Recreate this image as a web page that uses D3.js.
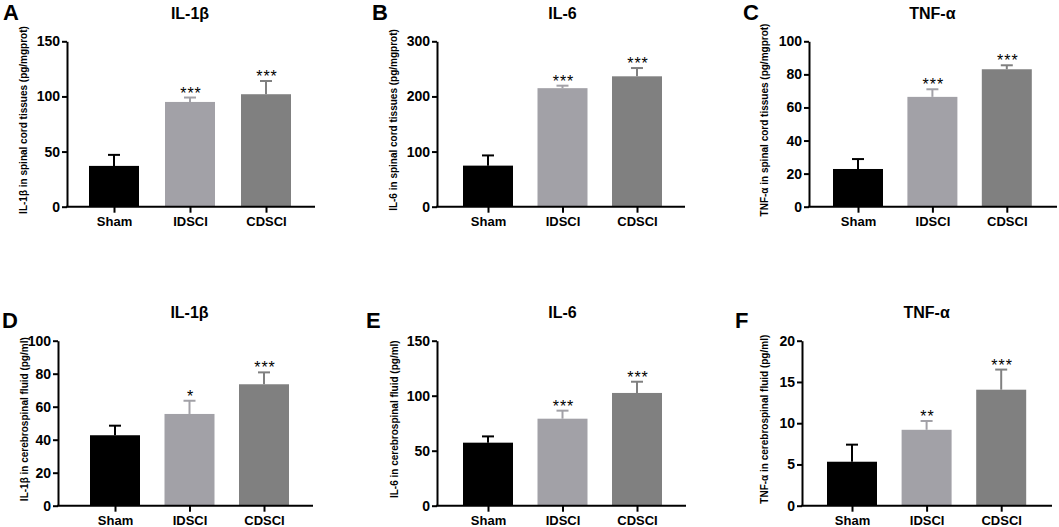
<!DOCTYPE html>
<html>
<head>
<meta charset="utf-8">
<script src="https://cdn.jsdelivr.net/npm/d3@7"></script>
<style>
  body { margin: 0; background: #fff; }
  svg { display: block; font-family: "Liberation Sans", Arial, sans-serif; }
</style>
</head>
<body>
<script>
// groups and panel texts
const groups = ["Sham", "IDSCI", "CDSCI"];
const letters = ["A", "B", "C", "D", "E", "F"];
const titles = ["IL-1β", "IL-6", "TNF-α", "IL-1β", "IL-6", "TNF-α"];
const yLabels = [
    "IL-1β in spinal cord tissues (pg/mgprot)",
    "IL-6 in spinal cord tissues (pg/mgprot)",
    "TNF-α in spinal cord tissues (pg/mgprot)",
    "IL-1β in cerebrospinal fluid (pg/ml)",
    "IL-6 in cerebrospinal fluid (pg/ml)",
    "TNF-α in cerebrospinal fluid (pg/ml)"
];

// means and upper error (SD)
const means = [
    [37, 95, 102],
    [74.5, 215, 236.5],
    [22.8, 66.4, 83.1],
    [42.7, 55.6, 73.6],
    [57.3, 79.1, 102.5],
    [5.33, 9.2, 14.06]
];
const errs = [
    [10, 4, 12],
    [18.5, 4.5, 15],
    [6, 4.6, 2.4],
    [5.8, 8, 7.2],
    [5.7, 7.3, 10.2],
    [2.07, 1.07, 2.44]
];
const stars = [
    ["", "***", "***"],
    ["", "***", "***"],
    ["", "***", "***"],
    ["", "*", "***"],
    ["", "***", "***"],
    ["", "**", "***"]
];
const yMax = [150, 300, 100, 100, 150, 20];
const yStep = [50, 100, 20, 20, 50, 5];

const colors = ["#000000", "#a2a1a7", "#808080"];

// layout of each panel (pixels)
const layout = [
    { left: 67, right: 315, c1: 114, step: 76, top: 41.3, bottom: 206.7, lx: 3, ly: 20, ty: 19 },
    { left: 437, right: 685, c1: 488, step: 74.5, top: 41.3, bottom: 206.7, lx: 372, ly: 20, ty: 19 },
    { left: 809, right: 1057, c1: 858, step: 74.4, top: 41.3, bottom: 206.7, lx: 743, ly: 20, ty: 19 },
    { left: 58, right: 313, c1: 115, step: 74.5, top: 340.7, bottom: 505.7, lx: 2, ly: 328, ty: 318 },
    { left: 437, right: 686, c1: 488, step: 74.5, top: 340.7, bottom: 505.7, lx: 366, ly: 328, ty: 318 },
    { left: 802, right: 1052, c1: 852, step: 74.6, top: 340.7, bottom: 505.7, lx: 735, ly: 328, ty: 318 }
];
const labelOffset = [40, 40, 41, 30, 39, 34];
const barWidth = 50;
const capWidth = 12;

const svg = d3.select('body').append('svg')
    .attr('width', 1059)
    .attr('height', 527);

layout.forEach((p, i) => {
    const g = svg.append('g');

    const x = d3.scalePoint()
        .domain(groups)
        .range([p.c1, p.c1 + 2 * p.step]);
    const y = d3.scaleLinear()
        .domain([0, yMax[i]])
        .range([p.bottom, p.top]);

    const rows = groups.map((name, j) => ({
        name: name,
        mean: means[i][j],
        err: errs[i][j],
        star: stars[i][j],
        color: colors[j]
    }));

    // bars
    g.selectAll('rect.bar')
        .data(rows)
        .join('rect')
        .attr('class', 'bar')
        .attr('x', d => x(d.name) - barWidth / 2)
        .attr('width', barWidth)
        .attr('y', d => y(d.mean))
        .attr('height', d => y(0) - y(d.mean))
        .attr('fill', d => d.color);

    // error bars (upper only)
    g.selectAll('line.err')
        .data(rows)
        .join('line')
        .attr('class', 'err')
        .attr('x1', d => x(d.name))
        .attr('x2', d => x(d.name))
        .attr('y1', d => y(d.mean))
        .attr('y2', d => y(d.mean + d.err))
        .attr('stroke', d => d.color)
        .attr('stroke-width', 2);

    g.selectAll('line.cap')
        .data(rows)
        .join('line')
        .attr('class', 'cap')
        .attr('x1', d => x(d.name) - capWidth / 2)
        .attr('x2', d => x(d.name) + capWidth / 2)
        .attr('y1', d => y(d.mean + d.err))
        .attr('y2', d => y(d.mean + d.err))
        .attr('stroke', d => d.color)
        .attr('stroke-width', 2);

    // significance stars
    g.selectAll('text.star')
        .data(rows.filter(d => d.star))
        .join('text')
        .attr('class', 'star')
        .attr('x', d => x(d.name) + 1)
        .attr('y', d => y(d.mean + d.err) + 1)
        .attr('text-anchor', 'middle')
        .style('font-size', '16px')
        .style('letter-spacing', '1px')
        .text(d => d.star);

    // y axis
    const yaxis = d3.axisLeft(y)
        .tickValues(d3.range(0, yMax[i] + 0.001, yStep[i]))
        .tickSize(5)
        .tickSizeOuter(0)
        .tickPadding(2);
    const gy = g.append('g')
        .attr('transform', `translate(${p.left},0)`)
        .call(yaxis);
    gy.selectAll('path, line').attr('stroke', '#000').attr('stroke-width', 2);
    gy.selectAll('text').style('font-size', '14px').style('font-weight', 'bold').attr('fill', '#000');

    // x axis
    const xaxis = d3.axisBottom(x).tickSize(6).tickPadding(4);
    const gx = g.append('g')
        .attr('transform', `translate(0,${p.bottom})`)
        .call(xaxis);
    gx.select('.domain').remove();
    gx.selectAll('line').attr('stroke', '#000').attr('stroke-width', 2);
    gx.selectAll('text').style('font-size', '13px').style('font-weight', 'bold').attr('fill', '#000');
    g.append('line')
        .attr('x1', p.left - 1)
        .attr('x2', p.right)
        .attr('y1', p.bottom)
        .attr('y2', p.bottom)
        .attr('stroke', '#000')
        .attr('stroke-width', 2);

    // y label
    g.append('text')
        .attr('transform', `translate(${p.left - labelOffset[i]},${(p.top + p.bottom) / 2 - 4}) rotate(-90)`)
        .attr('text-anchor', 'middle')
        .style('font-size', '10px')
        .style('font-weight', 'bold')
        .text(yLabels[i]);

    // title
    g.append('text')
        .attr('x', x(groups[1]))
        .attr('y', p.ty)
        .attr('text-anchor', 'middle')
        .style('font-size', '16px')
        .style('font-weight', 'bold')
        .text(titles[i]);

    // panel letter
    g.append('text')
        .attr('x', p.lx)
        .attr('y', p.ly)
        .style('font-size', '22px')
        .style('font-weight', 'bold')
        .text(letters[i]);
});
</script>
</body>
</html>
